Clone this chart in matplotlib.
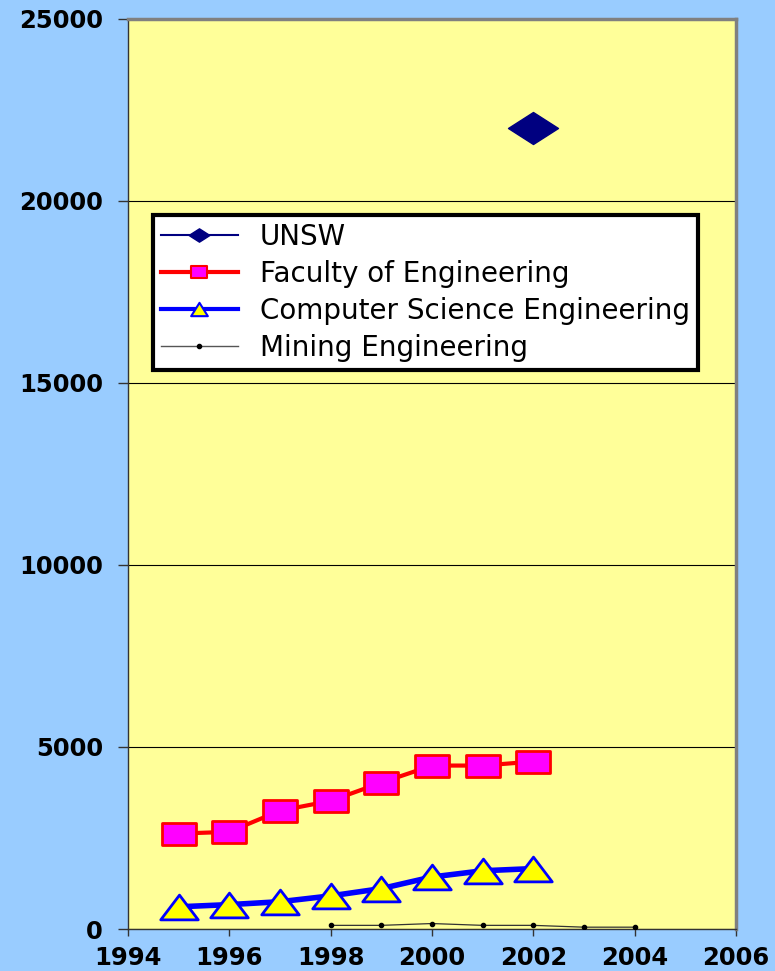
import matplotlib
matplotlib.use("Agg")
import matplotlib.pyplot as plt
from matplotlib.lines import Line2D
from matplotlib.path import Path
import numpy as np

# data
unsw_years = [2002]
unsw_vals = [22000]

fac_years = [1995, 1996, 1997, 1998, 1999, 2000, 2001, 2002]
fac_vals = [2620, 2670, 3250, 3520, 4020, 4490, 4490, 4600]

cse_years = [1995, 1996, 1997, 1998, 1999, 2000, 2001, 2002]
cse_vals = [610, 670, 750, 910, 1110, 1430, 1600, 1660]

min_years = [1998, 1999, 2000, 2001, 2002, 2003, 2004]
min_vals = [100, 100, 150, 100, 100, 50, 50]

labels = ["UNSW", "Faculty of Engineering", "Computer Science Engineering", "Mining Engineering"]

# wide markers like the original
diamond = Path([(-1, 0), (0, 0.64), (1, 0), (0, -0.64), (-1, 0)], closed=True)
rect = Path([(-1, -0.65), (1, -0.65), (1, 0.65), (-1, 0.65), (-1, -0.65)], closed=True)
tri = Path([(-1, -0.66), (1, -0.66), (0, 0.66), (-1, -0.66)], closed=True)
rect_s = Path([(-1, -0.85), (1, -0.85), (1, 0.85), (-1, 0.85), (-1, -0.85)], closed=True)
tri_s = Path([(-1, -0.8), (1, -0.8), (0, 0.8), (-1, -0.8)], closed=True)

bg = "#99ccff"
fig = plt.figure(figsize=(7.75, 9.71), dpi=100, facecolor=bg)
ax = fig.add_axes([128/775, 1-929/971, 608/775, 910/971])
ax.set_facecolor("#ffff99")

ax.plot(unsw_years, unsw_vals, color="#000080", marker=diamond, ms=36, mfc="#000080", mec="#000080", lw=1, zorder=5)
ax.plot(fac_years, fac_vals, color="#ff0000", lw=3, marker=rect, ms=25, mfc="#ff00ff", mec="#ff0000", mew=2, zorder=4)
ax.plot(cse_years, cse_vals, color="#0000ff", lw=4, marker=tri, ms=27, mfc="#ffff00", mec="#0000ff", mew=2, zorder=4)
ax.plot(min_years, min_vals, color="#333333", lw=0.9, marker="o", ms=3, mfc="black", mec="black", zorder=4)

ax.set_xlim(1994, 2006)
ax.set_ylim(0, 25000)
ax.set_xticks(np.arange(1994, 2007, 2))
ax.set_yticks(np.arange(0, 25001, 5000))
ax.yaxis.grid(True, color="black", lw=0.8)
ax.set_axisbelow(True)

for s in ["top", "right"]:
    ax.spines[s].set_color("#808080")
    ax.spines[s].set_linewidth(2.5)
for s in ["left", "bottom"]:
    ax.spines[s].set_color("#333333")
    ax.spines[s].set_linewidth(1)

ax.tick_params(axis="y", length=7, width=1, direction="out", pad=11, color="#333333")
ax.tick_params(axis="x", length=5, width=1, direction="out", pad=7, color="#333333")
for t in ax.get_xticklabels() + ax.get_yticklabels():
    t.set_fontfamily("DejaVu Sans")
    t.set_fontweight("bold")
    t.set_fontsize(17.5)

handles = [
    Line2D([], [], color="#000080", lw=1.5, marker=diamond, ms=15, mfc="#000080", mec="#000080"),
    Line2D([], [], color="#ff0000", lw=3, marker=rect_s, ms=11, mfc="#ff00ff", mec="#ff0000", mew=1.5),
    Line2D([], [], color="#0000ff", lw=3, marker=tri_s, ms=12, mfc="#ffff00", mec="#0000ff", mew=1.5),
    Line2D([], [], color="#555555", lw=1, marker="o", ms=3, mfc="black", mec="black"),
]
leg = ax.legend(handles, labels, loc="upper left", bbox_to_anchor=(0.041, 0.785),
                borderaxespad=0, fancybox=False, framealpha=1, edgecolor="black",
                prop={"family": "DejaVu Sans", "size": 20}, handlelength=2.75,
                handletextpad=0.8, labelspacing=0.32, borderpad=0.3)
leg.get_frame().set_linewidth(3)
leg.set_zorder(10)

fig.savefig("out.png", dpi=100, facecolor=bg)
